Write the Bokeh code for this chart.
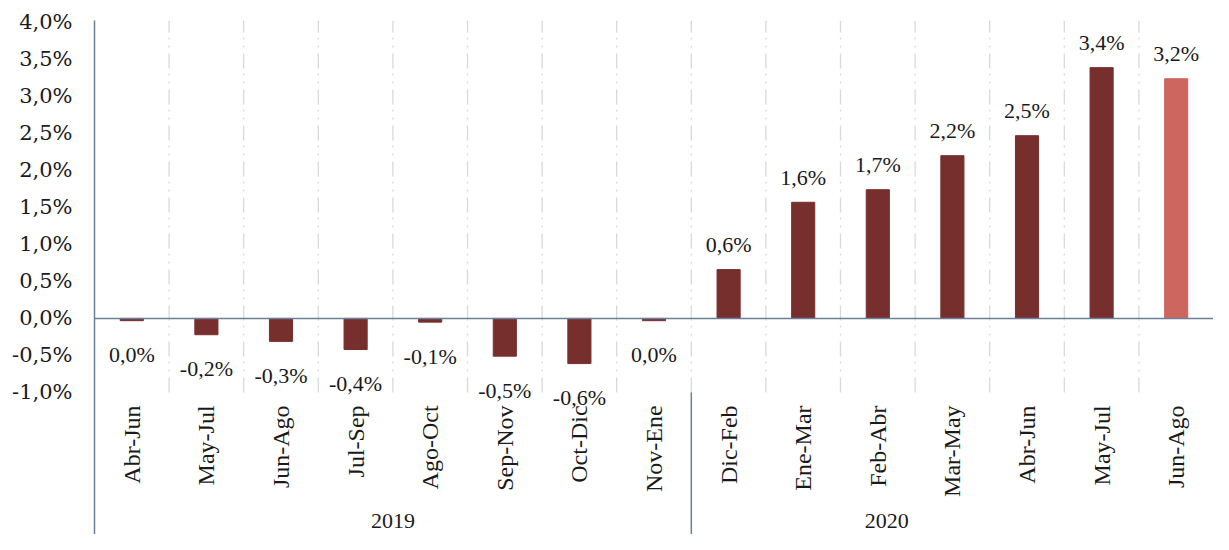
from bokeh.plotting import figure
from bokeh.models import (FactorRange, Range1d, ColumnDataSource, FixedTicker,
                          CustomJSTickFormatter, Span, LabelSet)
from bokeh.embed import file_html
from bokeh.resources import INLINE

years = ["2019"] * 8 + ["2020"] * 7
periods = ["Abr-Jun", "May-Jul", "Jun-Ago", "Jul-Sep", "Ago-Oct", "Sep-Nov", "Oct-Dic", "Nov-Ene",
           "Dic-Feb", "Ene-Mar", "Feb-Abr", "Mar-May", "Abr-Jun", "May-Jul", "Jun-Ago"]
values = [-0.03, -0.22, -0.31, -0.42, -0.05, -0.51, -0.61, -0.03,
          0.66, 1.57, 1.74, 2.20, 2.47, 3.39, 3.24]
labels = ["0,0%", "-0,2%", "-0,3%", "-0,4%", "-0,1%", "-0,5%", "-0,6%", "0,0%",
          "0,6%", "1,6%", "1,7%", "2,2%", "2,5%", "3,4%", "3,2%"]
y_ticks = [-1.0, -0.5, 0.0, 0.5, 1.0, 1.5, 2.0, 2.5, 3.0, 3.5, 4.0]
year_labels = ["2019", "2020"]

DARK = "#772F2E"
LIGHT = "#CD665F"
AXIS = "#6B7F99"
FONT = "DejaVu Serif"
FS = "21px"
FS_DATA = "22px"
FS_CAT = "24px"
TXT = "#1a1a1a"

Y_TOP = 4.027
Y_BOT = -2.92

factors = list(zip(years, periods))
colors = [DARK] * (len(values) - 1) + [LIGHT]
src = ColumnDataSource(dict(
    x=factors, top=values, color=colors, label=labels,
    yoff=[25 if v > 0 else -34 for v in values],
))

p = figure(width=1213, height=534, output_backend="svg", toolbar_location=None,
           x_range=FactorRange(*factors, factor_padding=0, group_padding=0, range_padding=0),
           y_range=Range1d(Y_BOT, Y_TOP),
           min_border_left=94, min_border_right=0, min_border_top=20, min_border_bottom=0)
p.outline_line_color = None
p.xaxis.visible = False
p.xgrid.visible = False
p.ygrid.visible = False

ax = p.yaxis[0]
ax.ticker = FixedTicker(ticks=y_ticks)
ax.formatter = CustomJSTickFormatter(code="return tick.toFixed(1).replace('.', ',') + '%';")
ax.axis_line_color = AXIS
ax.axis_line_width = 1.5
ax.major_tick_line_color = None
ax.minor_tick_line_color = None
ax.major_tick_out = 0
ax.major_tick_in = 0
ax.major_label_standoff = 22
ax.major_label_text_font = FONT
ax.major_label_text_font_size = FS
ax.major_label_text_color = TXT

# vertical dash-dot gridlines between categories (plot area only)
gx = [(y, c, 0.5) for y, c in factors[:-1]]
p.segment(x0=gx, x1=gx, y0=[-1.0] * len(gx), y1=[Y_TOP] * len(gx),
          line_color="#D9D9D9", line_width=1.3, line_dash="15 6 2 6 2 5")

# bars
p.vbar(x="x", top="top", bottom=0, width=0.31, color="color", source=src)

# zero line
p.add_layout(Span(location=0, dimension="width", line_color=AXIS, line_width=1.5))

# data labels
p.add_layout(LabelSet(x="x", y="top", text="label", y_offset="yoff", source=src,
                      text_font=FONT, text_font_size=FS_DATA, text_align="center",
                      text_baseline="middle", text_color=TXT))

# category labels (rotated)
cat_src = ColumnDataSource(dict(x=factors, y=[-1.0] * len(factors), text=periods))
p.add_layout(LabelSet(x="x", y="y", text="text", source=cat_src, angle=1.5708, y_offset=-13,
                      text_font=FONT, text_font_size=FS_CAT, text_align="right",
                      text_baseline="middle", text_color=TXT))

# year separator in the axis area
sep = [("2019", "Nov-Ene", 0.5)]
p.segment(x0=sep, x1=sep, y0=[-1.0], y1=[Y_BOT], line_color=AXIS, line_width=1.5)

# year labels
yr_src = ColumnDataSource(dict(x=[("2019", "Jul-Sep", 0.5), ("2020", "Feb-Abr", 0.12)],
                               y=[Y_BOT, Y_BOT], text=year_labels))
p.add_layout(LabelSet(x="x", y="y", text="text", source=yr_src, y_offset=14,
                      text_font=FONT, text_font_size=FS_DATA, text_align="center",
                      text_baseline="middle", text_color=TXT))

open("out.html", "w").write(file_html(p, INLINE))
